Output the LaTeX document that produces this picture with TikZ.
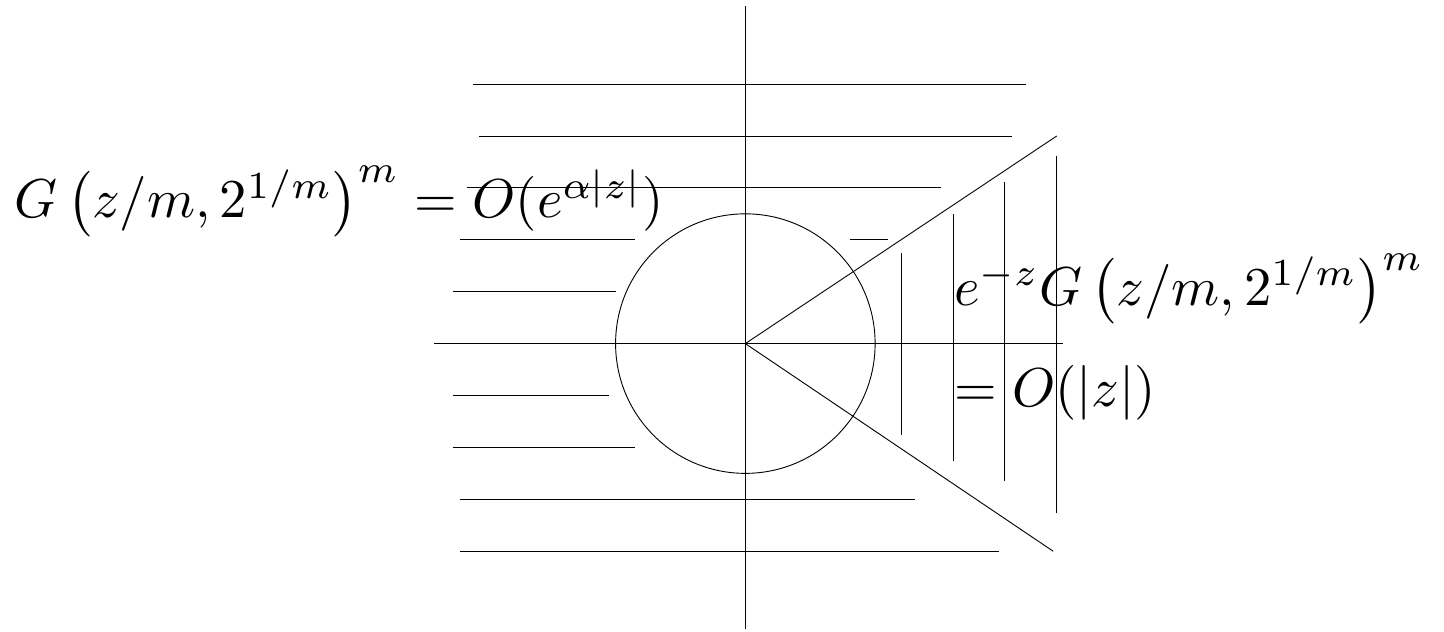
\documentclass[tikz,border=0pt]{standalone}
\usepackage{amsmath,amssymb}
\usepackage{tikz}
\usetikzlibrary{positioning}

\begin{document}
\begin{tikzpicture}[x=1cm,y=1cm,line width=0.5pt,
  formula/.style={anchor=base west,inner sep=0pt,scale=3}]
\useasboundingbox (-14.36,-5.54) rectangle (13.46,6.62);
\coordinate (o) at (0,0);
\draw (-6,0)--(6.12,0);
\draw (0,-5.5)--(0,6.5);
\draw (o) circle (2.5);
\draw (6,4)--(o)--(5.93,-4);
\foreach \y/\a/\b in {5/-5.25/5.4,4/-5.13/5.13,3/-5.37/3.77,2/-5.5/-2.13,1/-5.64/-2.5,
  -1/-5.64/-2.63,-2/-5.64/-2.13,-3/-5.5/3.27,-4/-5.5/4.88}
  \draw (\a,\y)--(\b,\y);
\draw (2.01,2)--(2.74,2);
\foreach \x/\a/\b in {3/-1.76/1.75,4/-2.26/2.5,5/-2.64/3.12,6/-3.26/3.62}
  \draw (\x,\a)--(\x,\b);
\node[formula] (lhs) at (-14.1,2.42)
  {$G\left(z/m,2^{1/m}\right)^m=O(e^{\alpha|z|})$};
\node[formula] (rhs1) at (4.0,0.74)
  {$e^{-z}G\left(z/m,2^{1/m}\right)^m$};
\node[formula] (rhs2) at (4.0,-1.22)
  {$=O(|z|)$};
\end{tikzpicture}
\end{document}
